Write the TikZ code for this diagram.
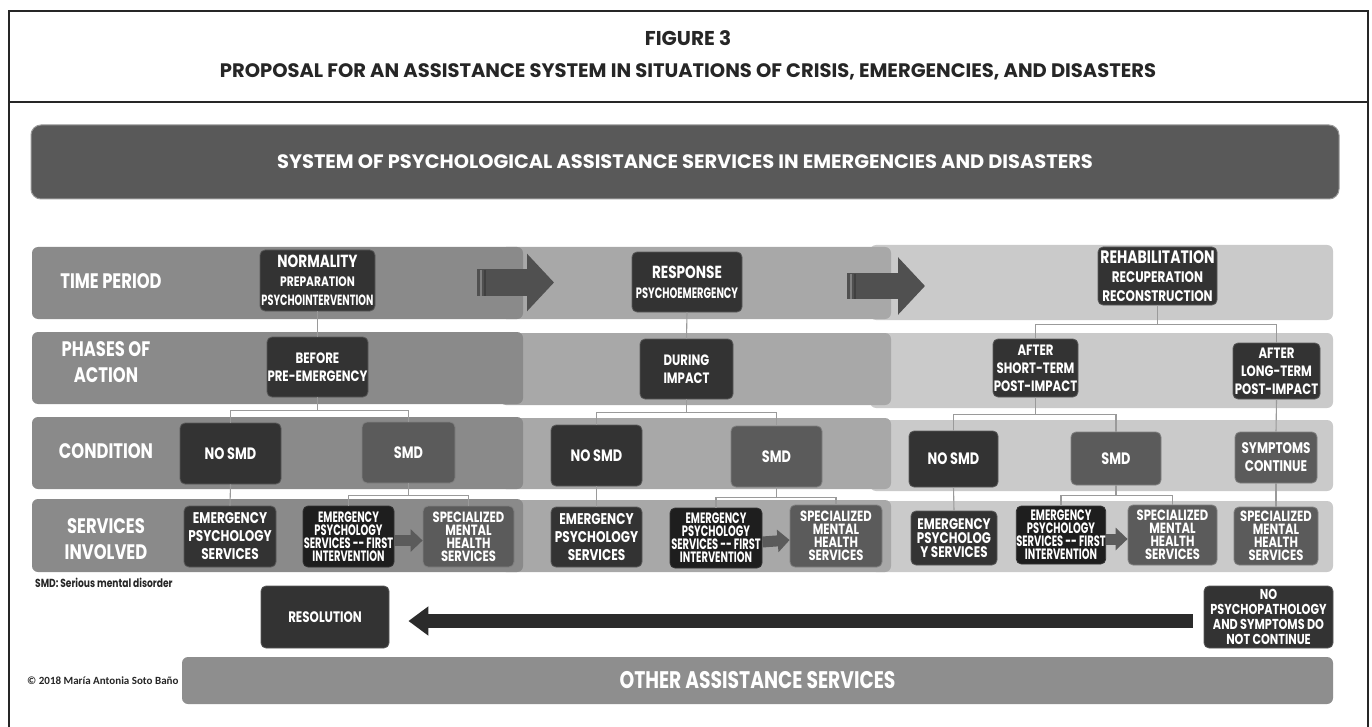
\documentclass[tikz,border=0pt]{standalone}
\usepackage{fontspec}
\setmainfont{Poppins}[FakeStretch=0.78]
\newfontfamily\condfont{Poppins}[FakeStretch=0.66]
\newfontfamily\titlefont{Poppins}
\newfontfamily\calfont{Carlito}
\usetikzlibrary{arrows.meta}
\definecolor{bandL}{HTML}{8A8A8A}
\definecolor{bandM}{HTML}{A8A8A8}
\definecolor{bandR}{HTML}{CACACA}
\definecolor{bxdark}{HTML}{333333}
\definecolor{bxdarker}{HTML}{1E1E1E}
\definecolor{bxmid}{HTML}{5B5B5B}
\definecolor{connc}{HTML}{9A9A9A}
\definecolor{hdr}{HTML}{595959}
\definecolor{othr}{HTML}{8E8E8E}
\definecolor{arrc}{HTML}{505050}
\newcommand\myfBox{\fontsize{15}{18}\selectfont\bfseries}
\newcommand\myfTight{\fontsize{14.8}{13}\selectfont\bfseries}
\tikzset{
  bx/.style={rounded corners=5pt, fill=bxdark, draw=black!65, line width=0.8pt, text=white, align=center, inner sep=0pt, font=\myfBox},
  bxm/.style={bx, fill=bxmid, draw=black!50},
  bxd/.style={bx, fill=bxdarker, draw=black!80},
  tight/.style={font=\myfTight},
  epsfont/.style={font=\fontsize{15.5}{18}\selectfont\bfseries},
  fifont/.style={font=\fontsize{15}{13}\selectfont\bfseries\condfont},
  smdfont/.style={font=\fontsize{16.5}{18}\selectfont\bfseries},
  sz/.style 2 args={minimum width=#1pt, minimum height=#2pt},
  conn/.style={draw=connc, line width=1.1pt},
  rowlabel/.style={text=white, align=center, font=\fontsize{21}{26}\selectfont\bfseries, inner sep=0pt},
  band/.style={rounded corners=6pt},
  timearrow/.style={draw=arrc, -{Triangle[length=27pt,width=56pt]}},
  stripe/.style={line width=2pt},
  svcarrow/.style={draw=bxmid, line width=11pt, -{Triangle[length=12pt,width=22pt]}},
  bigarrow/.style={draw=black!83, line width=14pt, -{Triangle[length=20pt,width=28pt]}},
}
\begin{document}
\begin{tikzpicture}[x=1pt,y=-1pt]
\useasboundingbox (0,0) rectangle (1372,727);
\fill[white] (0,0) rectangle (1372,727);
% frame
\draw[line width=2.5pt, black!85] (9,728) -- (9,11) -- (1368,11) -- (1368,728);
\draw[line width=2.5pt, black!85] (9,102) -- (1368,102);
\node[font=\titlefont\fontsize{20}{22}\selectfont\bfseries, text=black!85] (fig) at (688,38) {FIGURE 3};
\node[font=\titlefont\fontsize{19.5}{22}\selectfont\bfseries, text=black!85] (prop) at (688,72) {PROPOSAL FOR AN ASSISTANCE SYSTEM IN SITUATIONS OF CRISIS, EMERGENCIES, AND DISASTERS};
% header bar
\node[rounded corners=10pt, fill=hdr, draw=black!40, line width=1pt, minimum width=1308pt, minimum height=74pt, text=white, font=\titlefont\fontsize{19.4}{22}\selectfont\bfseries] (sys) at (685,162) {SYSTEM OF PSYCHOLOGICAL ASSISTANCE SERVICES IN EMERGENCIES AND DISASTERS};
% bands: right, middle, left
\foreach \ya/\yb in {245/320, 333/408, 420/491, 501/572}{
  \fill[band, bandR] (870,\ya) rectangle (1333,\yb);
}
\foreach \ya/\yb in {247/319, 333/405, 418/489, 500/572}{
  \fill[band, bandM] (500,\ya) rectangle (891,\yb);
}
\foreach \ya/\yb in {247/319, 332/404, 417/489, 499/572}{
  \fill[band, bandL] (32,\ya) rectangle (523,\yb);
}
% row labels
\node[rowlabel] (lt) at (111,281) {TIME PERIOD};
\node[rowlabel] (lp) at (106,362) {PHASES OF\\ACTION};
\node[rowlabel] (lc) at (106,451) {CONDITION};
\node[rowlabel] (ls) at (106,539) {SERVICES\\INVOLVED};
% time arrows
\coordinate (ta1s) at (477,282.5); \coordinate (ta1e) at (554,282.5);
\coordinate (ta2s) at (847,286); \coordinate (ta2e) at (925,286);
\draw[timearrow, line width=27pt] (ta1s) -- (ta1e);
\draw[timearrow, line width=26pt] (ta2s) -- (ta2e);
\draw[stripe, black!50] (481,269.5) -- (481,295.5);
\draw[stripe, black!75] (484.5,269.5) -- (484.5,295.5);
\draw[stripe, black!50] (851,273.5) -- (851,298.5);
\draw[stripe, black!75] (854.5,273.5) -- (854.5,298.5);
% row 1
\node[bx, sz={115}{61}, font=\fontsize{13.7}{19}\selectfont\bfseries] (normal) at (317.5,280.5) {{\fontsize{17.5}{19}\selectfont NORMALITY}\\PREPARATION\\{\condfont\fontsize{14.8}{19}\selectfont PSYCHOINTERVENTION}};
\node[bx, sz={110}{60}, font=\fontsize{15}{20}\selectfont\bfseries] (response) at (687,282) {{\fontsize{17.5}{20}\selectfont RESPONSE}\\{\condfont PSYCHOEMERGENCY}};
\node[bx, sz={119}{58}, font=\fontsize{15.3}{19}\selectfont\bfseries] (rehab) at (1157.5,276) {{\fontsize{18}{19}\selectfont REHABILITATION}\\RECUPERATION\\RECONSTRUCTION};
% row 2
\node[bx, sz={101}{60}] (before) at (317.5,367) {BEFORE\\PRE-EMERGENCY};
\node[bx, sz={93}{60}] (during) at (686.5,369) {DURING\\IMPACT};
\node[bx, sz={85}{58}] (ashort) at (1035.5,368) {AFTER\\SHORT-TERM\\POST-IMPACT};
\node[bx, sz={87}{56}] (along) at (1276.5,371) {AFTER\\LONG-TERM\\POST-IMPACT};
% row 3
\node[bx, sz={101}{61}, smdfont] (nosmdA) at (230.5,453.5) {NO SMD};
\node[bxm, sz={93}{61}, smdfont] (smdA) at (408.5,452.5) {SMD};
\node[bx, sz={91}{61}, smdfont] (nosmdB) at (596.5,455.5) {NO SMD};
\node[bxm, sz={91}{61}, smdfont] (smdB) at (776.5,456.5) {SMD};
\node[bx, sz={89}{56}, smdfont] (nosmdC) at (953.5,459) {NO SMD};
\node[bxm, sz={90}{53}, smdfont] (smdC) at (1116,458.5) {SMD};
\node[bxm, sz={82}{51}, font=\fontsize{15.4}{18}\selectfont\bfseries] (sympt) at (1276,457.5) {SYMPTOMS\\CONTINUE};
% row 4
\node[bx, sz={92}{61}, epsfont] (epsA) at (230,536.5) {EMERGENCY\\PSYCHOLOGY\\SERVICES};
\node[bxd, sz={91}{61}, fifont] (fiA) at (348.5,536.5) {EMERGENCY\\PSYCHOLOGY\\SERVICES -- FIRST\\INTERVENTION};
\node[bxm, sz={91}{61}, tight] (smhA) at (468.5,536.5) {SPECIALIZED\\MENTAL\\HEALTH\\SERVICES};
\node[bx, sz={91}{60}, epsfont] (epsB) at (596.5,537) {EMERGENCY\\PSYCHOLOGY\\SERVICES};
\node[bxd, sz={92}{60}, fifont] (fiB) at (716,538) {EMERGENCY\\PSYCHOLOGY\\SERVICES -- FIRST\\INTERVENTION};
\node[bxm, sz={92}{62}, tight] (smhB) at (836,536) {SPECIALIZED\\MENTAL\\HEALTH\\SERVICES};
\node[bx, sz={86}{54}, font=\fontsize{15.3}{14}\selectfont\bfseries] (epsC) at (954,538) {EMERGENCY\\PSYCHOLOG\\Y SERVICES};
\node[bxd, sz={82}{58}, fifont] (fiC) at (1061,535) {EMERGENCY\\PSYCHOLOGY\\SERVICES -- FIRST\\INTERVENTION};
\node[bxm, sz={89}{60}, tight] (smhC) at (1172.5,535) {SPECIALIZED\\MENTAL\\HEALTH\\SERVICES};
\node[bxm, sz={84}{58}, tight] (smhD) at (1276,536) {SPECIALIZED\\MENTAL\\HEALTH\\SERVICES};
% service arrows
\draw[svcarrow] ([yshift=-4pt]fiA.east) -- ([yshift=-4pt]smhA.west);
\draw[svcarrow] ([yshift=-4pt]fiB.east) -- ([yshift=-4pt]smhB.west);
\draw[svcarrow] ([yshift=-4pt]fiC.east) -- ([yshift=-4pt]smhC.west);
% connectors
\draw[conn] (normal.south) -- (before.north);
\draw[conn] (before.south) -- ++(0,13) coordinate (jA) -| (nosmdA.north);
\draw[conn] (jA) -| (smdA.north);
\draw[conn] (nosmdA.south) -- (epsA.north);
\draw[conn] (smdA.south) -- ++(0,12) coordinate (jB) -| (fiA.north);
\draw[conn] (jB) -| (smhA.north);
\draw[conn] (response.south) -- (during.north);
\draw[conn] (during.south) -- ++(0,13) coordinate (jC) -| (nosmdB.north);
\draw[conn] (jC) -| (smdB.north);
\draw[conn] (nosmdB.south) -- (epsB.north);
\draw[conn] (smdB.south) -- ++(0,10) coordinate (jD) -| (fiB.north);
\draw[conn] (jD) -| (smhB.north);
\draw[conn] (rehab.south) -- ++(0,19) coordinate (jE) -| (ashort.north);
\draw[conn] (jE) -| (along.north);
\draw[conn] (ashort.south) -- ++(0,17) coordinate (jF) -| (nosmdC.north);
\draw[conn] (jF) -| (smdC.north);
\draw[conn] (along.south) -- (sympt.north);
\draw[conn] (nosmdC.south) -- (epsC.north);
\draw[conn] (smdC.south) -- ++(0,10) coordinate (jG) -| (fiC.north);
\draw[conn] (jG) -| (smhC.north);
\draw[conn] (sympt.south) -- (smhD.north);
% footnote
\node[anchor=west, inner sep=0pt, text=black!85, font=\fontsize{11.7}{13}\selectfont\bfseries] (fn) at (35,583) {SMD: Serious mental disorder};
% resolution row
\node[bx, sz={128}{62}, font=\fontsize{15.2}{18}\selectfont\bfseries] (resol) at (325,617) {RESOLUTION};
\node[bx, sz={129}{62}, font=\fontsize{14.4}{15}\selectfont\bfseries] (nopsy) at (1268.5,617) {NO\\PSYCHOPATHOLOGY\\AND SYMPTOMS DO\\NOT CONTINUE};
\draw[bigarrow] ([xshift=-11pt,yshift=-4pt]nopsy.west) -- ([xshift=19pt,yshift=-4pt]resol.east);
% other services
\node[rounded corners=6pt, fill=othr, minimum width=1151pt, minimum height=47pt, text=white, font=\fontsize{24}{26}\selectfont\bfseries] (other) at (757.5,680.5) {OTHER ASSISTANCE SERVICES};
\node[anchor=west, inner sep=0pt, text=black!85, font=\calfont\fontsize{11}{13}\selectfont\bfseries] (copy) at (27,681) {© 2018 María Antonia Soto Baño};
\end{tikzpicture}
\end{document}
